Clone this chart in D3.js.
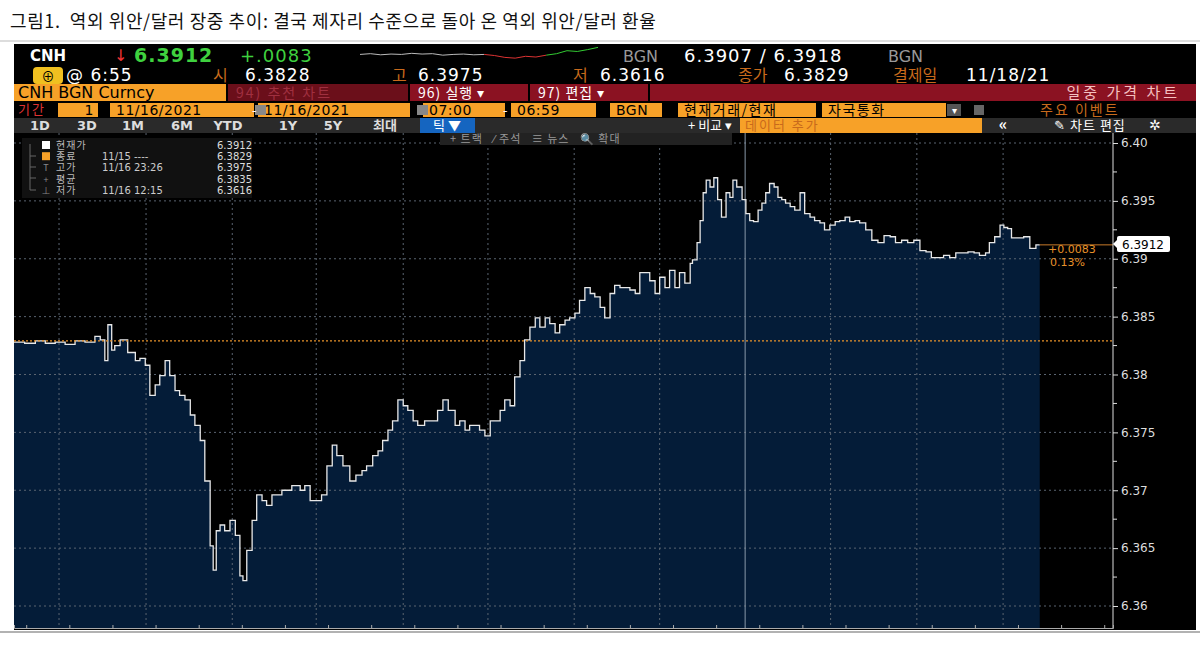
<!DOCTYPE html>
<html><head><meta charset="utf-8">
<script src="https://cdn.jsdelivr.net/npm/d3@7/dist/d3.min.js"></script>
<style>body{margin:0;background:#fff}svg{display:block}text{white-space:pre}</style>
</head><body>
<script>
// ---- data (minutes after 07:00, price) ----
const tickMinutes=[0,14,28,41,54,67,80,93,106,113,119,123,128,132,139,149,159,165,172,178,185,191,198,204,211,217,224,231,237,244,250,257,261,265,270,276,283,290,296,300,305,312,318,325,331,338,345,351,358,364,375,381,388,398,403,410,417,423,431,440,448,456,462,470,477,483,490,496,503,510,516,523,529,538,548,555,562,569,578,584,591,597,604,610,617,624,630,637,643,650,656,663,669,676,683,689,696,702,709,715,722,728,735,741,748,755,761,768,774,781,787,794,800,807,814,820,827,833,840,846,853,859,866,872,879,886,889,895,899,903,907,912,917,922,927,933,938,942,947,954,959,964,969,975,980,985,990,996,1001,1006,1011,1017,1023,1030,1036,1043,1049,1056,1062,1069,1076,1082,1089,1095,1102,1108,1116,1124,1132,1140,1148,1155,1163,1171,1179,1187,1195,1202,1210,1218,1226,1234,1242,1250,1258,1265,1273,1278,1285,1292,1297,1302,1307,1315,1323,1331,1339,1344];
const tickPrices=[6.3828,6.3827,6.3829,6.3827,6.3828,6.3826,6.3829,6.3828,6.3833,6.3830,6.3812,6.3843,6.3821,6.3825,6.3830,6.3819,6.3812,6.3814,6.3808,6.3782,6.3791,6.3799,6.3812,6.3799,6.3786,6.3782,6.3778,6.3765,6.3756,6.3743,6.3708,6.3652,6.3631,6.3665,6.3670,6.3665,6.3674,6.3661,6.3626,6.3622,6.3648,6.3674,6.3696,6.3691,6.3687,6.3696,6.3696,6.3700,6.3700,6.3704,6.3700,6.3704,6.3691,6.3691,6.3696,6.3721,6.3739,6.3730,6.3721,6.3708,6.3713,6.3717,6.3721,6.3730,6.3734,6.3743,6.3752,6.3760,6.3778,6.3773,6.3769,6.3760,6.3756,6.3760,6.3760,6.3769,6.3778,6.3769,6.3756,6.3760,6.3752,6.3756,6.3756,6.3752,6.3747,6.3760,6.3760,6.3769,6.3778,6.3773,6.3798,6.3812,6.3830,6.3841,6.3849,6.3841,6.3849,6.3844,6.3836,6.3843,6.3847,6.3849,6.3853,6.3864,6.3875,6.3870,6.3867,6.3858,6.3849,6.3870,6.3877,6.3875,6.3875,6.3873,6.3870,6.3888,6.3888,6.3881,6.3870,6.3884,6.3875,6.3890,6.3875,6.3888,6.3879,6.3896,6.3899,6.3914,6.3933,6.3957,6.3968,6.3962,6.3970,6.3951,6.3936,6.3957,6.3953,6.3968,6.3962,6.3951,6.3939,6.3933,6.3932,6.3942,6.3948,6.3957,6.3965,6.3962,6.3953,6.3951,6.3948,6.3945,6.3942,6.3957,6.3939,6.3936,6.3933,6.3931,6.3925,6.3929,6.3932,6.3933,6.3936,6.3932,6.3933,6.3931,6.3925,6.3916,6.3914,6.3920,6.3919,6.3914,6.3916,6.3914,6.3916,6.3907,6.3906,6.3901,6.3901,6.3903,6.3901,6.3905,6.3905,6.3906,6.3905,6.3903,6.3905,6.3914,6.3919,6.3929,6.3927,6.3926,6.3918,6.3918,6.3919,6.3909,6.3912,6.3912];
const yTicks=[6.36,6.365,6.37,6.375,6.38,6.385,6.39,6.395,6.40];
const yTickLabels=["6.36","6.365","6.37","6.375","6.38","6.385","6.39","6.395","6.40"];
const gridMinutes=[59,173,286,396,510,621,734,846,958,1070,1183,1296];
const prevClose=6.3829, lastPrice=6.3912;
const sparkValues=[5,5.2,4.9,5.1,5,5.3,5.1,5.2,4.8,5,5.1,4.9,5,4.7,4.2,4.0,4.5,4.3,4.8,5.2,6.0,5.8,6.3,6.9];
const legendRows=[["현재가","","6.3912","#fff"],["종료","11/15 ----","6.3829","#f7a128"],["고가","11/16 23:26","6.3975",null],["평균","","6.3835",null],["저가","11/16 12:15","6.3616",null]];

const W=1200,H=656;
const svg=d3.select("body").append("svg").attr("width",W).attr("height",H);
const KF="'Noto Sans CJK KR','Noto Sans',sans-serif";
const txt=(x,y,s,o={})=>svg.append("text").attr("x",x).attr("y",y).text(s)
  .attr("font-family",o.f||KF).attr("font-size",o.s||15).attr("fill",o.c||"#fff")
  .attr("font-weight",o.w||"normal").attr("text-anchor",o.a||"start").attr("letter-spacing",o.ls||0);
const rect=(x,y,w,h,c)=>svg.append("rect").attr("x",x).attr("y",y).attr("width",w).attr("height",h).attr("fill",c);

// title
txt(10,28,"그림1.  역외 위안/달러 장중 추이: 결국 제자리 수준으로 돌아 온 역외 위안/달러 환율",{c:"#111",s:18,ls:0.6});
svg.append("line").attr("x1",0).attr("x2",1200).attr("y1",41).attr("y2",41).attr("stroke","#bbb");
rect(14,44,1182,586,"#000");
svg.append("line").attr("x1",0).attr("x2",1200).attr("y1",632).attr("y2",632).attr("stroke","#999").attr("stroke-width",1.5);

// header row 1
const MF="'DejaVu Sans','Liberation Sans',sans-serif";
txt(30,61,"CNH",{s:15,w:"bold",f:MF});
txt(114,61,"↓",{s:16,c:"#e33",f:MF});
txt(134,62,"6.3912",{s:19,c:"#3fd13f",f:MF,w:"bold",ls:1});
txt(240,62,"+.0083",{s:18,c:"#3fd13f",f:MF,ls:1});
const sx=d3.scaleLinear().domain([0,sparkValues.length-1]).range([360,598]);
const sy=d3.scaleLinear().domain([3.5,7]).range([60,47]);
const spl=d3.line().x((d,i)=>sx(i)).y(d=>sy(d));
svg.append("path").attr("d",spl(sparkValues.slice(0,13))).attr("fill","none").attr("stroke","#bbb");
svg.append("path").attr("d",spl.x((d,i)=>sx(i+12))(sparkValues.slice(12,19))).attr("fill","none").attr("stroke","#d33");
svg.append("path").attr("d",spl.x((d,i)=>sx(i+18))(sparkValues.slice(18))).attr("fill","none").attr("stroke","#3c3");
txt(623,62,"BGN",{s:16,c:"#999",f:MF});
txt(684,62,"6.3907 / 6.3918",{s:18,f:MF,ls:1});
txt(888,62,"BGN",{s:16,c:"#999",f:MF});
// row 2
rect(33,67,30,17,"#f0c020").attr("rx",4);
txt(48,81,"⊕",{s:13,c:"#000",a:"middle"});
txt(66,81,"@ 6:55",{s:17,f:MF,ls:1});
const r2=[[213,"시",245,"6.3828"],[392,"고",418,"6.3975"],[573,"저",600,"6.3616"],[738,"종가",784,"6.3829"],[893,"결제일",966,"11/18/21"]];
r2.forEach(r=>{txt(r[0],81,r[1],{s:16,c:"#c86a1c"});txt(r[2],81,r[3],{s:17,f:MF,ls:1});});
// row 3
rect(14,84,212,17,"#f7a128");txt(18,98,"CNH BGN Curncy",{s:16,c:"#000",f:MF});
rect(228,84,180,17,"#6b0f1a");txt(236,98,"94) 추천 차트",{s:14,c:"#a03040",ls:2});
rect(410,84,118,17,"#8b1222");txt(418,98,"96) 실행 ▾",{s:14,ls:1});
rect(530,84,118,17,"#8b1222");txt(538,98,"97) 편집 ▾",{s:14,ls:1});
rect(650,84,546,17,"#8b1222");txt(1180,98,"일중 가격 차트",{s:15,a:"end",c:"#f5c0c0",ls:3});
// row 4
txt(18,114,"기간",{s:13,c:"#d33",ls:2});
[[58,40,"1"],[110,144,"11/16/2021"],[258,152,"11/16/2021"],[423,82,"07:00"],[511,85,"06:59"],[610,52,"BGN"],[678,138,"현재거래/현재"],[822,124,"자국통화"]].forEach((b,i)=>{
  rect(b[0],103,b[1],14,"#f7a128");
  txt(i==0?b[0]+b[1]-4:b[0]+6,115,b[2],{s:14,c:"#000",f:i>=6?KF:MF,a:i==0?"end":"start",ls:i>=6?1.5:0.5});
});
rect(255,105,11,10,"#888");rect(417,105,11,10,"#888");
txt(252,115,"-",{s:13});txt(503,115,"-",{s:13});
rect(947,104,14,12,"#555");txt(954,114,"▾",{s:10,a:"middle"});
rect(974,105,10,10,"#666");txt(1040,115,"주요 이벤트",{s:14,c:"#c86a1c",ls:2});
// row 5
rect(14,118,1182,15,"#2a2a2a");
[["1D",40],["3D",87],["1M",133],["6M",182],["YTD",228],["1Y",288],["5Y",333],["최대",385]].forEach(b=>txt(b[1],130,b[0],{s:13,f:b[0]=="최대"?KF:MF,a:"middle",w:"bold",c:"#ddd"}));
rect(420,118,55,15,"#1565c0");txt(447,130,"틱 ▼",{s:13,a:"middle"});
txt(710,130,"+ 비교 ▾",{s:13,a:"middle"});
rect(740,118,242,15,"#f7a128");txt(745,130,"데이터 추가",{s:13,c:"#c86a1c",ls:2});
txt(1003,130,"«",{s:16,a:"middle",w:"bold"});
txt(1090,130,"✎ 차트 편집",{s:13,a:"middle",ls:1});
txt(1155,130,"✲",{s:14,a:"middle"});
// chart
const x=d3.scaleLinear().domain([0,1440]).range([14,1113]);
const y=d3.scaleLinear().domain([6.36,6.40]).range([606,143]);
const plotBottom=628;
const g=svg.append("g");
const data=tickMinutes.map((m,i)=>[m,tickPrices[i]]);
g.append("path").datum(data).attr("fill","#041c38")
 .attr("d",d3.area().curve(d3.curveStepAfter).x(d=>x(d[0])).y0(plotBottom).y1(d=>y(d[1])));
yTicks.forEach(t=>g.append("line").attr("x1",14).attr("x2",1113).attr("y1",y(t)).attr("y2",y(t))
  .attr("stroke","#5a6470").attr("stroke-dasharray","2,3").attr("stroke-width",1));
gridMinutes.forEach((m,i)=>g.append("line").attr("x1",x(m)).attr("x2",x(m)).attr("y1",133).attr("y2",plotBottom)
  .attr("stroke",i==8?"#8a9aaa":"#5a6470").attr("stroke-dasharray",i==8?null:"2,3"));
g.append("path").datum(data).attr("fill","none").attr("stroke","#e8e8e8").attr("stroke-width",1.3)
 .attr("d",d3.line().curve(d3.curveStepAfter).x(d=>x(d[0])).y(d=>y(d[1])));
g.append("line").attr("x1",14).attr("x2",1113).attr("y1",y(prevClose)).attr("y2",y(prevClose))
 .attr("stroke","#e8922a").attr("stroke-dasharray","2,2").attr("stroke-width",1.3);
const lastM=tickMinutes[tickMinutes.length-1];
g.append("line").attr("x1",x(lastM)).attr("x2",1113).attr("y1",y(lastPrice)).attr("y2",y(lastPrice)).attr("stroke","#c87a2a");
txt(1048,253,"+0.0083",{s:11,c:"#e8922a",f:MF});
txt(1050,266,"0.13%",{s:11,c:"#e8922a",f:MF});
svg.append("g").attr("transform","translate(1113,0)").call(d3.axisRight(y).tickValues(yTicks).tickFormat((d,i)=>yTickLabels[i]).tickSize(5))
 .call(a=>{a.select(".domain").attr("stroke","#ddd").attr("d","M0,133V628");a.selectAll("line").attr("stroke","#ddd");
   a.selectAll("text").attr("fill","#ddd").attr("font-size",12).attr("font-family",MF);});
const minor=yTicks.slice(0,-1).map(t=>t+0.0025);
minor.forEach(t=>svg.append("line").attr("x1",1113).attr("x2",1117).attr("y1",y(t)).attr("y2",y(t)).attr("stroke","#ddd"));
const bot=svg.append("g").attr("transform",`translate(0,${plotBottom})`).call(d3.axisBottom(x).tickValues(d3.range(16,1440,56.5)).tickSize(-3).tickFormat(""));
bot.select(".domain").attr("stroke","#aaa");bot.selectAll("line").attr("stroke","#aaa");
rect(1117,236,53,16,"#fff").attr("rx",2);
svg.append("path").attr("d","M1113,244 L1117,240 L1117,248Z").attr("fill","#fff");
txt(1143,249,"6.3912",{s:12,c:"#000",a:"middle",f:MF});
// tabs
rect(440,133,292,12,"#222");
txt(450,143,"+ 트랙   ⁄ 주석   ≡ 뉴스   🔍 확대",{s:11,c:"#999",ls:1});
// legend
rect(22,138,230,60,"#111");
legendRows.forEach((r,i)=>{
  const yy=149+i*11.2;
  if(r[3]) rect(42,yy-8,8,8,r[3]); else txt(46,yy,i==2?"T":(i==3?"+":"⊥"),{s:9,c:"#888",a:"middle"});
  txt(56,yy,r[0],{s:10,c:"#bbb",ls:1});
  txt(102,yy,r[1],{s:10,c:"#ccc",f:MF});
  txt(252,yy,r[2],{s:10,c:"#ddd",a:"end",f:MF});
});
svg.append("path").attr("d","M30,144V190H36M30,156H36M30,167H36M30,178H36").attr("stroke","#666").attr("fill","none");
</script>
</body></html>
